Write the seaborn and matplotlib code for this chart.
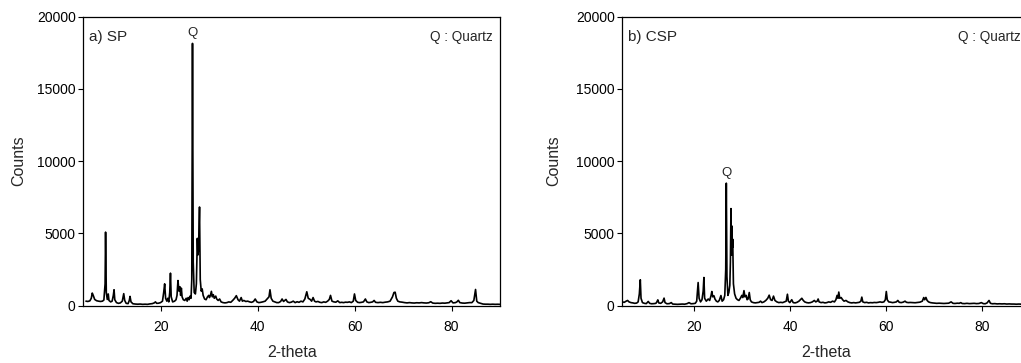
import matplotlib
matplotlib.use("Agg")
import matplotlib.pyplot as plt
import seaborn as sns
import pandas as pd

# XRD pattern of SP
sp_two_theta = [
    4.5, 4.9, 5.3, 5.6, 5.8, 6.0, 6.3, 6.7, 7.1, 7.5, 7.9, 8.2, 8.45, 8.55, 8.7, 8.9,
    9.1, 9.25, 9.6, 9.9, 10.15, 10.3, 10.45, 10.8, 11.2, 11.6, 12.0, 12.3, 12.5, 12.8,
    13.2, 13.45, 13.6, 13.8, 14.2, 14.7, 15.2, 15.7, 16.2, 16.7, 17.2, 17.7, 18.2, 18.6,
    18.85, 19.1, 19.5, 19.9, 20.3, 20.55, 20.75, 20.95, 21.2, 21.4, 21.6, 21.8, 21.95,
    22.1, 22.4, 22.8, 23.1, 23.3, 23.5, 23.7, 23.9, 24.05, 24.2, 24.35, 24.6, 24.9, 25.2,
    25.4, 25.6, 25.8, 26.0, 26.2, 26.35, 26.5, 26.65, 26.85, 27.1, 27.3, 27.5, 27.62,
    27.75, 27.95, 28.1, 28.3, 28.5, 28.7, 29.0, 29.3, 29.6, 29.85, 30.0, 30.2, 30.4,
    30.6, 30.8, 31.0, 31.3, 31.5, 31.8, 32.1, 32.4, 32.8, 33.2, 33.6, 34.0, 34.4, 34.8,
    35.2, 35.55, 35.9, 36.2, 36.55, 36.8, 37.1, 37.5, 37.9, 38.3, 38.7, 39.1, 39.45,
    39.8, 40.2, 40.6, 41.0, 41.5, 41.9, 42.3, 42.5, 42.75, 43.1, 43.5, 43.9, 44.3, 44.7,
    45.0, 45.3, 45.8, 46.1, 46.5, 46.9, 47.3, 47.7, 48.1, 48.5, 48.9, 49.3, 49.7, 50.1,
    50.4, 50.8, 51.1, 51.4, 51.7, 52.0, 52.4, 52.8, 53.2, 53.6, 54.0, 54.4, 54.75, 55.0,
    55.3, 55.7, 56.1, 56.5, 56.9, 57.3, 57.7, 58.1, 58.5, 58.9, 59.3, 59.7, 59.95, 60.2,
    60.6, 61.0, 61.4, 61.8, 62.2, 62.5, 62.9, 63.3, 63.7, 64.0, 64.3, 64.8, 65.3, 65.8,
    66.3, 66.8, 67.3, 67.8, 68.1, 68.35, 68.6, 68.9, 69.3, 69.8, 70.3, 70.8, 71.3, 71.8,
    72.3, 72.8, 73.3, 73.8, 74.3, 74.8, 75.3, 75.7, 76.1, 76.6, 77.1, 77.6, 78.1, 78.6,
    79.1, 79.5, 79.9, 80.3, 80.8, 81.1, 81.4, 81.7, 82.2, 82.7, 83.2, 83.7, 84.2, 84.6,
    84.95, 85.2, 85.5, 86.0, 86.5, 87.0, 87.5, 88.0, 88.5, 89.0, 89.5, 90.0,
]
sp_counts = [
    300, 280, 320, 500, 860, 700, 420, 330, 300, 280, 300, 380, 1500, 5080, 900, 420,
    800, 350, 250, 300, 700, 1090, 400, 200, 150, 180, 300, 820, 350, 150,
    130, 350, 630, 250, 120, 100, 90, 100, 80, 90, 80, 110, 130, 180,
    250, 150, 160, 200, 300, 900, 1500, 500, 300, 500, 250, 900, 2240,
    600, 250, 300, 400, 700, 1730, 1000, 1300, 700, 1200, 600, 400, 350, 500,
    300, 550, 400, 650, 500, 1800, 18150, 3000, 900, 800, 1500, 4650, 3500,
    3900, 6820, 1800, 1000, 1150, 700, 450, 400, 600, 700, 550, 700, 980,
    600, 750, 500, 650, 450, 350, 450, 250, 200, 180, 200, 250, 220, 350,
    500, 680, 400, 300, 550, 300, 350, 280, 300, 250, 220, 280, 450,
    250, 200, 220, 250, 300, 450, 600, 1090, 500, 300, 250, 200, 200, 280,
    450, 280, 420, 250, 200, 230, 300, 200, 260, 220, 300, 250, 450, 950,
    500, 420, 300, 550, 300, 250, 280, 220, 200, 250, 220, 300, 420, 700,
    300, 250, 230, 320, 200, 220, 200, 230, 220, 250, 200, 300, 800, 350,
    220, 200, 220, 250, 450, 250, 200, 220, 250, 350, 220, 200, 220, 200,
    230, 250, 300, 600, 900, 920, 500, 300, 250, 230, 200, 180, 200, 180,
    170, 190, 180, 200, 180, 170, 190, 260, 170, 150, 160, 150, 170, 160,
    180, 200, 330, 180, 200, 250, 360, 200, 170, 160, 180, 200, 200, 350,
    1110, 300, 200, 150, 100, 90, 90, 80, 90, 80, 85, 80,
]

# XRD pattern of CSP
csp_two_theta = [
    5.0, 5.4, 5.8, 6.1, 6.4, 6.8, 7.2, 7.6, 8.0, 8.3, 8.55, 8.75, 8.9, 9.2, 9.6, 10.0,
    10.4, 10.7, 11.1, 11.6, 12.0, 12.2, 12.4, 12.6, 13.0, 13.4, 13.7, 13.9, 14.3, 14.8,
    15.2, 15.5, 16.0, 16.5, 17.0, 17.5, 18.0, 18.5, 18.9, 19.3, 19.8, 20.2, 20.5, 20.8,
    21.0, 21.3, 21.6, 21.85, 22.0, 22.15, 22.5, 22.9, 23.2, 23.5, 23.65, 23.85, 24.1,
    24.3, 24.6, 24.9, 25.2, 25.55, 25.8, 26.1, 26.35, 26.55, 26.67, 26.8, 27.0, 27.2,
    27.4, 27.52, 27.64, 27.75, 27.85, 27.93, 28.0, 28.15, 28.4, 28.7, 29.0, 29.3, 29.6,
    29.9, 30.1, 30.35, 30.55, 30.8, 31.0, 31.2, 31.45, 31.65, 31.9, 32.3, 32.7, 33.1,
    33.5, 33.8, 34.1, 34.5, 34.9, 35.3, 35.6, 35.9, 36.2, 36.5, 36.8, 37.2, 37.6, 38.0,
    38.4, 38.8, 39.15, 39.4, 39.6, 39.9, 40.3, 40.6, 41.0, 41.4, 41.8, 42.1, 42.4, 42.7,
    43.0, 43.4, 43.8, 44.2, 44.6, 45.0, 45.3, 45.6, 45.8, 46.0, 46.4, 46.8, 47.2, 47.6,
    48.0, 48.4, 48.8, 49.2, 49.5, 49.75, 49.95, 50.1, 50.3, 50.6, 50.9, 51.2, 51.6, 52.0,
    52.4, 52.8, 53.2, 53.6, 54.0, 54.4, 54.7, 54.9, 55.1, 55.5, 55.9, 56.3, 56.7, 57.1,
    57.5, 57.9, 58.3, 58.7, 59.1, 59.5, 59.8, 60.0, 60.2, 60.5, 60.9, 61.3, 61.7, 62.1,
    62.4, 62.7, 63.1, 63.5, 63.9, 64.2, 64.6, 65.0, 65.5, 66.0, 66.5, 67.0, 67.5, 67.8,
    68.0, 68.25, 68.5, 68.8, 69.2, 69.6, 70.0, 70.5, 71.0, 71.5, 72.0, 72.5, 73.0, 73.5,
    73.9, 74.3, 74.8, 75.2, 75.5, 75.8, 76.3, 76.8, 77.3, 77.8, 78.3, 78.8, 79.3, 79.8,
    80.2, 80.6, 81.0, 81.4, 81.7, 82.1, 82.6, 83.1, 83.6, 84.1, 84.6, 85.1, 85.6, 86.1,
    86.6, 87.1, 87.6, 88.1, 88.6, 89.1, 89.6, 90.0,
]
csp_counts = [
    250, 220, 300, 350, 250, 200, 180, 150, 170, 250, 800, 1780, 500, 200, 150, 130,
    280, 150, 120, 130, 150, 250, 390, 180, 150, 250, 510, 200, 120, 130,
    200, 100, 90, 80, 90, 100, 90, 130, 200, 120, 130, 150, 300, 1590,
    500, 250, 400, 1000, 1940, 500, 300, 450, 350, 700, 970, 600, 670,
    450, 300, 250, 350, 690, 300, 400, 700, 2500, 8470, 2000, 700, 900,
    1400, 3000, 6710, 3500, 5500, 4000, 4590, 1500, 800, 500, 400, 350, 500,
    700, 550, 1030, 600, 700, 400, 450, 900, 400, 250, 200, 180, 200,
    220, 300, 200, 250, 350, 500, 715, 400, 350, 650, 350, 250, 200, 220,
    200, 250, 300, 780, 300, 200, 400, 200, 180, 220, 300, 400, 500, 350,
    250, 200, 180, 200, 250, 350, 250, 300, 450, 250, 200, 220, 180, 200,
    250, 220, 300, 250, 400, 700, 500, 930, 500, 550, 400, 300, 350, 250,
    200, 180, 200, 180, 200, 220, 300, 580, 250, 200, 220, 180, 200, 190,
    210, 200, 220, 250, 220, 250, 400, 970, 400, 250, 230, 200, 220, 250,
    350, 220, 200, 230, 300, 220, 200, 210, 200, 190, 210, 230, 300, 550,
    400, 560, 350, 250, 200, 180, 170, 150, 160, 150, 140, 150, 160, 250,
    150, 140, 160, 150, 200, 140, 130, 150, 130, 140, 150, 130, 140, 200,
    130, 120, 180, 350, 150, 120, 130, 110, 120, 110, 120, 100, 110, 100,
    100, 90, 100, 90, 90, 90, 85, 80,
]

panel_titles = ["a) SP", "b) CSP"]
legend_text = "Q : Quartz"
peak_label = "Q"
quartz_peaks = [(26.5, 18150), (26.67, 8470)]
y_ticks = [0, 5000, 10000, 15000, 20000]
x_ticks = [20, 40, 60, 80]

sns.set_style("ticks")
plt.rcParams["font.family"] = ["Liberation Sans", "DejaVu Sans"]

W, H = 1021, 363
fig = plt.figure(figsize=(W / 100, H / 100), dpi=100)

panels = [
    dict(rect=[83.3 / W, 1 - 305.5 / H, (500 - 83.3) / W, (305.5 - 16.7) / H],
         x=sp_two_theta, y=sp_counts, xlim=(3.95, 90), ylabelpad=7.5, legend_x=0.982),
    dict(rect=[622.3 / W, 1 - 305.5 / H, (1030.3 - 622.3) / W, (305.5 - 16.7) / H],
         x=csp_two_theta, y=csp_counts, xlim=(5, 90), ylabelpad=10.5, legend_x=0.976),
]

for i, p in enumerate(panels):
    ax = fig.add_axes(p["rect"])
    df = pd.DataFrame({"two_theta": p["x"], "counts": p["y"]})
    sns.lineplot(data=df, x="two_theta", y="counts", ax=ax, color="black",
                 linewidth=1.2, estimator=None, sort=False)
    ax.set_xlim(*p["xlim"])
    ax.set_ylim(0, 20000)
    ax.set_xticks(x_ticks)
    ax.set_yticks(y_ticks)
    ax.tick_params(axis="both", direction="out", length=3.5, width=0.8,
                   colors="black", labelsize=10)
    ax.tick_params(axis="x", pad=7)
    ax.tick_params(axis="y", pad=2)
    for s in ax.spines.values():
        s.set_visible(True)
        s.set_linewidth(0.9)
        s.set_color("black")
    ax.set_xlabel("2-theta", fontsize=11.5, labelpad=8)
    ax.set_ylabel("Counts", fontsize=11.5, labelpad=p["ylabelpad"])

    ax.text(0.013, 0.955, panel_titles[i], transform=ax.transAxes,
            fontsize=11, ha="left", va="top")
    ax.text(p["legend_x"], 0.955, legend_text, transform=ax.transAxes,
            fontsize=9.8, ha="right", va="top")
    px, py = quartz_peaks[i]
    ax.annotate(peak_label, xy=(px, py), xytext=(0, 3), textcoords="offset points",
                ha="center", va="bottom", fontsize=9.5)

fig.savefig("out.png", dpi=100)
